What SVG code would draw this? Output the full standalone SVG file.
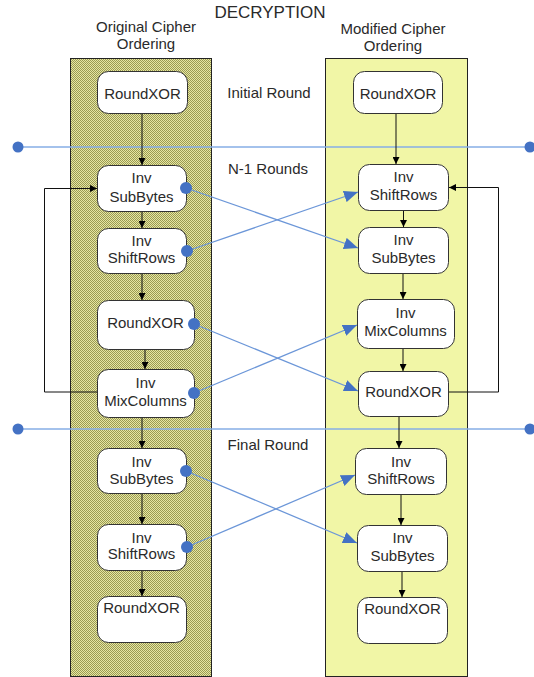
<svg xmlns="http://www.w3.org/2000/svg" width="534" height="677" viewBox="0 0 534 677">
<defs>
<pattern id="dots" x="0" y="0" width="2" height="2" patternUnits="userSpaceOnUse">
<rect width="2" height="2" fill="#e6e6a2"/>
<rect x="0" y="0" width="1" height="1" fill="#9a9a52"/>
<rect x="1" y="1" width="1" height="1" fill="#9a9a52"/>
</pattern>
<marker id="ah" viewBox="0 0 10 10" refX="10" refY="5" markerWidth="7" markerHeight="7" markerUnits="userSpaceOnUse" orient="auto">
<path d="M0,0 L10,5 L0,10 z" fill="#000"/>
</marker>
<marker id="bh" viewBox="0 0 12 10" refX="12" refY="5" markerWidth="14" markerHeight="12" markerUnits="userSpaceOnUse" orient="auto">
<path d="M0,0 L12,5 L0,10 z" fill="#4472c4"/>
</marker>
<style>
text{font-family:"Liberation Sans",Arial,sans-serif;font-size:15px;fill:#2a2a2a;text-anchor:middle}
.title{font-size:17px}
.box{fill:#fff;stroke:#333;stroke-width:1}
.blk{stroke:#111;stroke-width:1;fill:none}
.blue{stroke:#6b96d8;stroke-width:1.3;fill:none}
.sep{stroke:#86aee6;stroke-width:1.6}
.dot{fill:#4472c4}
</style>
</defs>
<rect width="534" height="677" fill="#fff"/>

<text class="title" x="270" y="18">DECRYPTION</text>
<text x="146" y="32">Original Cipher</text>
<text x="146" y="49">Ordering</text>
<text x="393" y="34">Modified Cipher</text>
<text x="393" y="51">Ordering</text>

<g id="panel-original"><rect x="70.5" y="58.5" width="141" height="618" fill="url(#dots)" stroke="#222" stroke-width="1"/></g>
<g id="panel-modified"><rect x="325.5" y="58.5" width="142" height="618" fill="#f1f6a6" stroke="#222" stroke-width="1"/></g>

<text x="269" y="98">Initial Round</text>
<text x="268" y="174">N-1 Rounds</text>
<text x="268" y="450">Final Round</text>

<g id="connectors">
<line class="sep" x1="18" y1="147" x2="530" y2="147"/>
<line class="sep" x1="18" y1="429" x2="530" y2="429"/>
<circle class="dot" cx="18" cy="147" r="5.5"/>
<circle class="dot" cx="530" cy="147" r="5.5"/>
<circle class="dot" cx="18" cy="429" r="5.5"/>
<circle class="dot" cx="530" cy="429" r="5.5"/>
<line class="blk" x1="142" y1="113" x2="142" y2="165" marker-end="url(#ah)"/>
<line class="blk" x1="142" y1="211" x2="142" y2="228" marker-end="url(#ah)"/>
<line class="blk" x1="142" y1="273" x2="142" y2="300" marker-end="url(#ah)"/>
<line class="blk" x1="145" y1="349" x2="145" y2="369" marker-end="url(#ah)"/>
<line class="blk" x1="142" y1="417" x2="142" y2="448" marker-end="url(#ah)"/>
<line class="blk" x1="142" y1="493" x2="142" y2="524" marker-end="url(#ah)"/>
<line class="blk" x1="142" y1="570" x2="142" y2="596" marker-end="url(#ah)"/>
<polyline class="blk" points="97,392 44.5,392 44.5,188.5 97,188.5" marker-end="url(#ah)"/>
<line class="blk" x1="396" y1="113" x2="396" y2="164" marker-end="url(#ah)"/>
<line class="blk" x1="403.5" y1="210" x2="403.5" y2="227" marker-end="url(#ah)"/>
<line class="blk" x1="403" y1="273" x2="403" y2="299" marker-end="url(#ah)"/>
<line class="blk" x1="403" y1="348" x2="403" y2="371" marker-end="url(#ah)"/>
<line class="blk" x1="399" y1="416" x2="399" y2="448" marker-end="url(#ah)"/>
<line class="blk" x1="401" y1="494" x2="401" y2="525" marker-end="url(#ah)"/>
<line class="blk" x1="402" y1="571" x2="402" y2="597" marker-end="url(#ah)"/>
<polyline class="blk" points="449,392 498.5,392 498.5,187.5 449,187.5" marker-end="url(#ah)"/>
<line class="blue" x1="186" y1="188" x2="358" y2="248" marker-end="url(#bh)"/>
<line class="blue" x1="187" y1="251" x2="358" y2="192" marker-end="url(#bh)"/>
<line class="blue" x1="194" y1="324" x2="358" y2="391" marker-end="url(#bh)"/>
<line class="blue" x1="194" y1="393" x2="357" y2="325" marker-end="url(#bh)"/>
<line class="blue" x1="186" y1="471" x2="357" y2="543" marker-end="url(#bh)"/>
<line class="blue" x1="187" y1="547" x2="355" y2="475" marker-end="url(#bh)"/>
</g>

<g id="L-roundxor0"><rect class="box" x="97.5" y="71.5" width="90" height="42" rx="11"/><text x="142.5" y="99">RoundXOR</text></g>
<g id="L-subbytes1"><rect class="box" x="97.5" y="165.5" width="89" height="46" rx="11"/><text x="141.5" y="183">Inv</text><text x="141.5" y="201.5">SubBytes</text></g>
<g id="L-shiftrows1"><rect class="box" x="97.5" y="228.5" width="89" height="45" rx="11"/><text x="141.5" y="246">Inv</text><text x="141.5" y="263">ShiftRows</text></g>
<g id="L-roundxor1"><rect class="box" x="97.5" y="300.5" width="97" height="49" rx="11"/><text x="145.5" y="328">RoundXOR</text></g>
<g id="L-mixcolumns1"><rect class="box" x="97.5" y="369.5" width="97" height="48" rx="11"/><text x="145.5" y="388">Inv</text><text x="145.5" y="406">MixColumns</text></g>
<g id="L-subbytes2"><rect class="box" x="97.5" y="448.5" width="89" height="45" rx="11"/><text x="141.5" y="466.5">Inv</text><text x="141.5" y="484">SubBytes</text></g>
<g id="L-shiftrows2"><rect class="box" x="97.5" y="524.5" width="89" height="46" rx="11"/><text x="141.5" y="542.5">Inv</text><text x="141.5" y="559">ShiftRows</text></g>
<g id="L-roundxor2"><rect class="box" x="97.5" y="596.5" width="89" height="46" rx="11"/><text x="141.5" y="613">RoundXOR</text></g>

<g id="R-roundxor0"><rect class="box" x="353.5" y="71.5" width="89" height="42" rx="11"/><text x="398" y="99">RoundXOR</text></g>
<g id="R-shiftrows1"><rect class="box" x="358.5" y="164.5" width="90" height="46" rx="11"/><text x="403.5" y="182">Inv</text><text x="403.5" y="200">ShiftRows</text></g>
<g id="R-subbytes1"><rect class="box" x="358.5" y="227.5" width="90" height="46" rx="11"/><text x="403.5" y="244.5">Inv</text><text x="403.5" y="263">SubBytes</text></g>
<g id="R-mixcolumns1"><rect class="box" x="357.5" y="299.5" width="97" height="49" rx="11"/><text x="405.5" y="318">Inv</text><text x="405.5" y="336">MixColumns</text></g>
<g id="R-roundxor1"><rect class="box" x="358.5" y="371.5" width="90" height="45" rx="11"/><text x="403.5" y="397">RoundXOR</text></g>
<g id="R-shiftrows2"><rect class="box" x="355.5" y="448.5" width="91" height="46" rx="11"/><text x="401" y="467">Inv</text><text x="401" y="484">ShiftRows</text></g>
<g id="R-subbytes2"><rect class="box" x="357.5" y="525.5" width="90" height="46" rx="11"/><text x="402.5" y="543">Inv</text><text x="402.5" y="561">SubBytes</text></g>
<g id="R-roundxor2"><rect class="box" x="357.5" y="597.5" width="90" height="46" rx="11"/><text x="402.5" y="614">RoundXOR</text></g>

<g id="dots-src">
<circle class="dot" cx="186" cy="188" r="6"/>
<circle class="dot" cx="187" cy="251" r="6"/>
<circle class="dot" cx="194" cy="324" r="6"/>
<circle class="dot" cx="194" cy="393" r="6"/>
<circle class="dot" cx="186" cy="471" r="6"/>
<circle class="dot" cx="187" cy="547" r="6"/>
</g>
</svg>
